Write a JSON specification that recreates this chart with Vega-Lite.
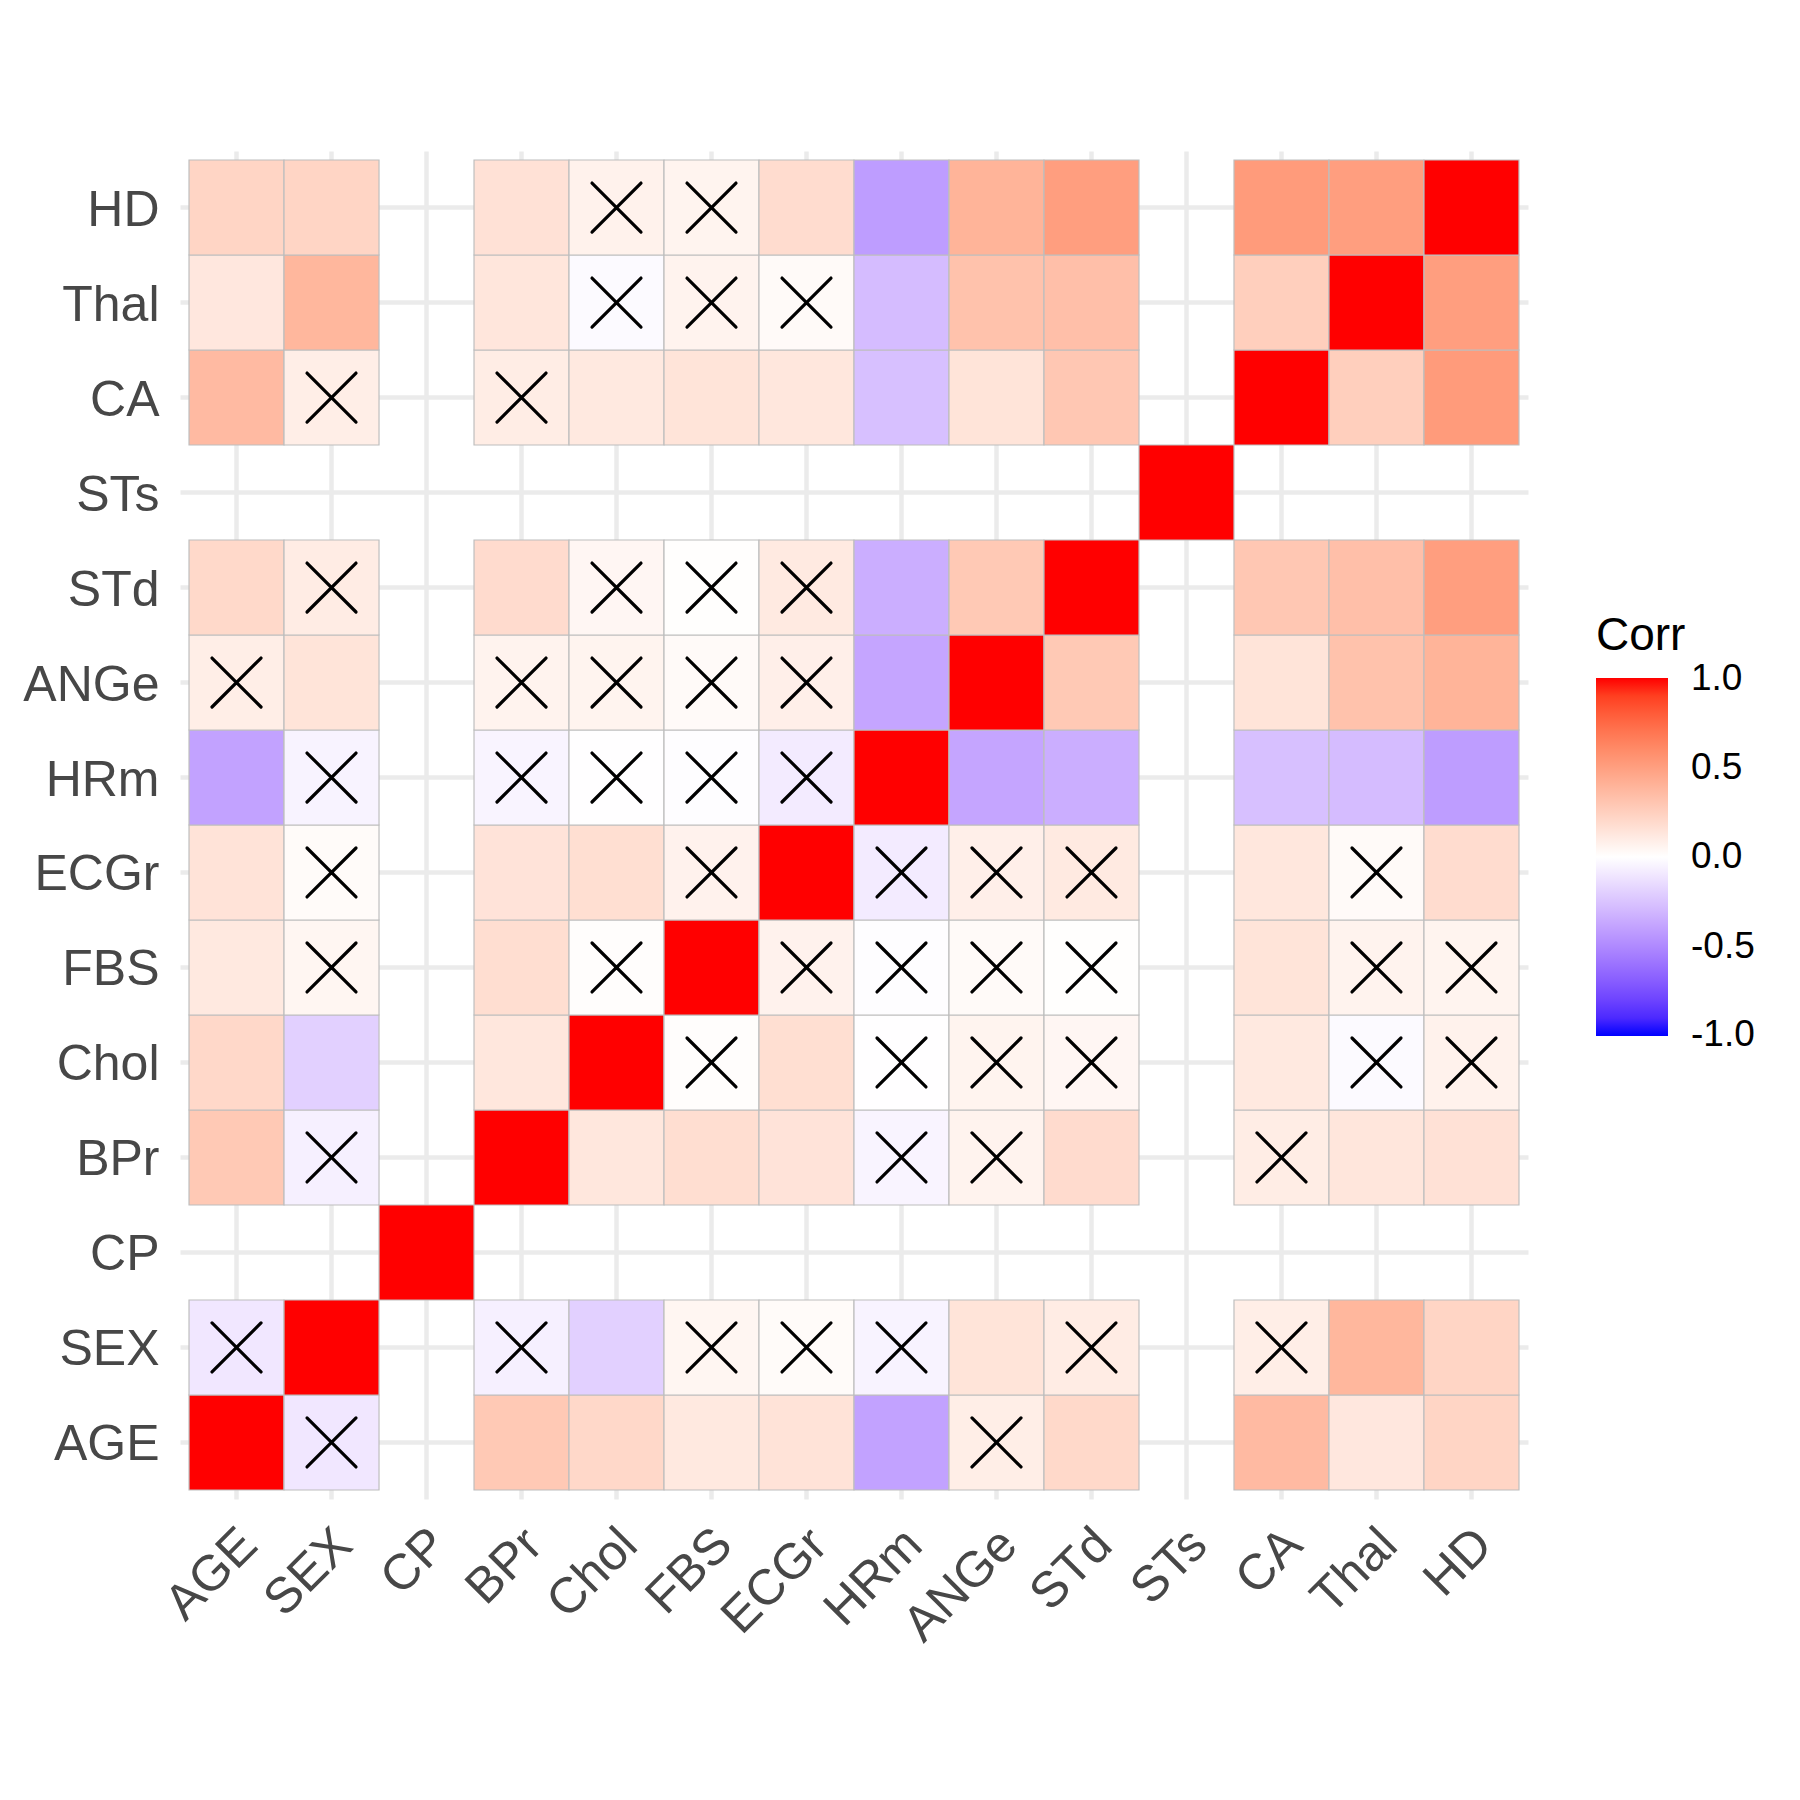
{
  "$schema": "https://vega.github.io/schema/vega-lite/v6.json",
  "width": 1348,
  "height": 1348,
  "autosize": "none",
  "padding": {"left": 180, "top": 151, "right": 272, "bottom": 301},
  "background": "white",
  "config": {"view": {"stroke": null}, "font": "Liberation Sans"},
  "data": {"values": [
    {"x":"AGE","y":"AGE","r":1,"ns":false},
    {"x":"AGE","y":"SEX","r":-0.098,"ns":true},
    {"x":"AGE","y":"BPr","r":0.285,"ns":false},
    {"x":"AGE","y":"Chol","r":0.209,"ns":false},
    {"x":"AGE","y":"FBS","r":0.119,"ns":false},
    {"x":"AGE","y":"ECGr","r":0.149,"ns":false},
    {"x":"AGE","y":"HRm","r":-0.394,"ns":false},
    {"x":"AGE","y":"ANGe","r":0.092,"ns":true},
    {"x":"AGE","y":"STd","r":0.204,"ns":false},
    {"x":"AGE","y":"CA","r":0.362,"ns":false},
    {"x":"AGE","y":"Thal","r":0.127,"ns":false},
    {"x":"AGE","y":"HD","r":0.223,"ns":false},
    {"x":"SEX","y":"AGE","r":-0.098,"ns":true},
    {"x":"SEX","y":"SEX","r":1,"ns":false},
    {"x":"SEX","y":"BPr","r":-0.064,"ns":true},
    {"x":"SEX","y":"Chol","r":-0.198,"ns":false},
    {"x":"SEX","y":"FBS","r":0.048,"ns":true},
    {"x":"SEX","y":"ECGr","r":0.022,"ns":true},
    {"x":"SEX","y":"HRm","r":-0.049,"ns":true},
    {"x":"SEX","y":"ANGe","r":0.146,"ns":false},
    {"x":"SEX","y":"STd","r":0.102,"ns":true},
    {"x":"SEX","y":"CA","r":0.093,"ns":true},
    {"x":"SEX","y":"Thal","r":0.381,"ns":false},
    {"x":"SEX","y":"HD","r":0.224,"ns":false},
    {"x":"CP","y":"CP","r":1,"ns":false},
    {"x":"BPr","y":"AGE","r":0.285,"ns":false},
    {"x":"BPr","y":"SEX","r":-0.064,"ns":true},
    {"x":"BPr","y":"BPr","r":1,"ns":false},
    {"x":"BPr","y":"Chol","r":0.13,"ns":false},
    {"x":"BPr","y":"FBS","r":0.175,"ns":false},
    {"x":"BPr","y":"ECGr","r":0.147,"ns":false},
    {"x":"BPr","y":"HRm","r":-0.045,"ns":true},
    {"x":"BPr","y":"ANGe","r":0.065,"ns":true},
    {"x":"BPr","y":"STd","r":0.189,"ns":false},
    {"x":"BPr","y":"CA","r":0.098,"ns":true},
    {"x":"BPr","y":"Thal","r":0.134,"ns":false},
    {"x":"BPr","y":"HD","r":0.158,"ns":false},
    {"x":"Chol","y":"AGE","r":0.209,"ns":false},
    {"x":"Chol","y":"SEX","r":-0.198,"ns":false},
    {"x":"Chol","y":"BPr","r":0.13,"ns":false},
    {"x":"Chol","y":"Chol","r":1,"ns":false},
    {"x":"Chol","y":"FBS","r":0.01,"ns":true},
    {"x":"Chol","y":"ECGr","r":0.171,"ns":false},
    {"x":"Chol","y":"HRm","r":-0.003,"ns":true},
    {"x":"Chol","y":"ANGe","r":0.061,"ns":true},
    {"x":"Chol","y":"STd","r":0.047,"ns":true},
    {"x":"Chol","y":"CA","r":0.119,"ns":false},
    {"x":"Chol","y":"Thal","r":-0.02,"ns":true},
    {"x":"Chol","y":"HD","r":0.071,"ns":true},
    {"x":"FBS","y":"AGE","r":0.119,"ns":false},
    {"x":"FBS","y":"SEX","r":0.048,"ns":true},
    {"x":"FBS","y":"BPr","r":0.175,"ns":false},
    {"x":"FBS","y":"Chol","r":0.01,"ns":true},
    {"x":"FBS","y":"FBS","r":1,"ns":false},
    {"x":"FBS","y":"ECGr","r":0.07,"ns":true},
    {"x":"FBS","y":"HRm","r":-0.008,"ns":true},
    {"x":"FBS","y":"ANGe","r":0.026,"ns":true},
    {"x":"FBS","y":"STd","r":0.006,"ns":true},
    {"x":"FBS","y":"CA","r":0.145,"ns":false},
    {"x":"FBS","y":"Thal","r":0.064,"ns":true},
    {"x":"FBS","y":"HD","r":0.059,"ns":true},
    {"x":"ECGr","y":"AGE","r":0.149,"ns":false},
    {"x":"ECGr","y":"SEX","r":0.022,"ns":true},
    {"x":"ECGr","y":"BPr","r":0.147,"ns":false},
    {"x":"ECGr","y":"Chol","r":0.171,"ns":false},
    {"x":"ECGr","y":"FBS","r":0.07,"ns":true},
    {"x":"ECGr","y":"ECGr","r":1,"ns":false},
    {"x":"ECGr","y":"HRm","r":-0.083,"ns":true},
    {"x":"ECGr","y":"ANGe","r":0.085,"ns":true},
    {"x":"ECGr","y":"STd","r":0.114,"ns":true},
    {"x":"ECGr","y":"CA","r":0.128,"ns":false},
    {"x":"ECGr","y":"Thal","r":0.025,"ns":true},
    {"x":"ECGr","y":"HD","r":0.184,"ns":false},
    {"x":"HRm","y":"AGE","r":-0.394,"ns":false},
    {"x":"HRm","y":"SEX","r":-0.049,"ns":true},
    {"x":"HRm","y":"BPr","r":-0.045,"ns":true},
    {"x":"HRm","y":"Chol","r":-0.003,"ns":true},
    {"x":"HRm","y":"FBS","r":-0.008,"ns":true},
    {"x":"HRm","y":"ECGr","r":-0.083,"ns":true},
    {"x":"HRm","y":"HRm","r":1,"ns":false},
    {"x":"HRm","y":"ANGe","r":-0.378,"ns":false},
    {"x":"HRm","y":"STd","r":-0.343,"ns":false},
    {"x":"HRm","y":"CA","r":-0.265,"ns":false},
    {"x":"HRm","y":"Thal","r":-0.279,"ns":false},
    {"x":"HRm","y":"HD","r":-0.415,"ns":false},
    {"x":"ANGe","y":"AGE","r":0.092,"ns":true},
    {"x":"ANGe","y":"SEX","r":0.146,"ns":false},
    {"x":"ANGe","y":"BPr","r":0.065,"ns":true},
    {"x":"ANGe","y":"Chol","r":0.061,"ns":true},
    {"x":"ANGe","y":"FBS","r":0.026,"ns":true},
    {"x":"ANGe","y":"ECGr","r":0.085,"ns":true},
    {"x":"ANGe","y":"HRm","r":-0.378,"ns":false},
    {"x":"ANGe","y":"ANGe","r":1,"ns":false},
    {"x":"ANGe","y":"STd","r":0.288,"ns":false},
    {"x":"ANGe","y":"CA","r":0.146,"ns":false},
    {"x":"ANGe","y":"Thal","r":0.322,"ns":false},
    {"x":"ANGe","y":"HD","r":0.397,"ns":false},
    {"x":"STd","y":"AGE","r":0.204,"ns":false},
    {"x":"STd","y":"SEX","r":0.102,"ns":true},
    {"x":"STd","y":"BPr","r":0.189,"ns":false},
    {"x":"STd","y":"Chol","r":0.047,"ns":true},
    {"x":"STd","y":"FBS","r":0.006,"ns":true},
    {"x":"STd","y":"ECGr","r":0.114,"ns":true},
    {"x":"STd","y":"HRm","r":-0.343,"ns":false},
    {"x":"STd","y":"ANGe","r":0.288,"ns":false},
    {"x":"STd","y":"STd","r":1,"ns":false},
    {"x":"STd","y":"CA","r":0.296,"ns":false},
    {"x":"STd","y":"Thal","r":0.336,"ns":false},
    {"x":"STd","y":"HD","r":0.504,"ns":false},
    {"x":"STs","y":"STs","r":1,"ns":false},
    {"x":"CA","y":"AGE","r":0.362,"ns":false},
    {"x":"CA","y":"SEX","r":0.093,"ns":true},
    {"x":"CA","y":"BPr","r":0.098,"ns":true},
    {"x":"CA","y":"Chol","r":0.119,"ns":false},
    {"x":"CA","y":"FBS","r":0.145,"ns":false},
    {"x":"CA","y":"ECGr","r":0.128,"ns":false},
    {"x":"CA","y":"HRm","r":-0.265,"ns":false},
    {"x":"CA","y":"ANGe","r":0.146,"ns":false},
    {"x":"CA","y":"STd","r":0.296,"ns":false},
    {"x":"CA","y":"CA","r":1,"ns":false},
    {"x":"CA","y":"Thal","r":0.255,"ns":false},
    {"x":"CA","y":"HD","r":0.521,"ns":false},
    {"x":"Thal","y":"AGE","r":0.127,"ns":false},
    {"x":"Thal","y":"SEX","r":0.381,"ns":false},
    {"x":"Thal","y":"BPr","r":0.134,"ns":false},
    {"x":"Thal","y":"Chol","r":-0.02,"ns":true},
    {"x":"Thal","y":"FBS","r":0.064,"ns":true},
    {"x":"Thal","y":"ECGr","r":0.025,"ns":true},
    {"x":"Thal","y":"HRm","r":-0.279,"ns":false},
    {"x":"Thal","y":"ANGe","r":0.322,"ns":false},
    {"x":"Thal","y":"STd","r":0.336,"ns":false},
    {"x":"Thal","y":"CA","r":0.255,"ns":false},
    {"x":"Thal","y":"Thal","r":1,"ns":false},
    {"x":"Thal","y":"HD","r":0.507,"ns":false},
    {"x":"HD","y":"AGE","r":0.223,"ns":false},
    {"x":"HD","y":"SEX","r":0.224,"ns":false},
    {"x":"HD","y":"BPr","r":0.158,"ns":false},
    {"x":"HD","y":"Chol","r":0.071,"ns":true},
    {"x":"HD","y":"FBS","r":0.059,"ns":true},
    {"x":"HD","y":"ECGr","r":0.184,"ns":false},
    {"x":"HD","y":"HRm","r":-0.415,"ns":false},
    {"x":"HD","y":"ANGe","r":0.397,"ns":false},
    {"x":"HD","y":"STd","r":0.504,"ns":false},
    {"x":"HD","y":"CA","r":0.521,"ns":false},
    {"x":"HD","y":"Thal","r":0.507,"ns":false},
    {"x":"HD","y":"HD","r":1,"ns":false}
  ]},
  "encoding": {
    "x": {
      "field": "x", "type": "nominal",
      "scale": {"domain": ["AGE","SEX","CP","BPr","Chol","FBS","ECGr","HRm","ANGe","STd","STs","CA","Thal","HD"], "paddingInner": 0, "paddingOuter": 0.095},
      "axis": {"title": null, "orient": "bottom", "labelAngle": -45, "labelAlign": "right", "labelBaseline": "top",
        "labelFontSize": 50, "labelColor": "#474747", "labelPadding": 20, "labelOffset": -5,
        "ticks": false, "tickSize": 0, "domain": false, "grid": true, "gridColor": "#EBEBEB", "gridWidth": 4.5,
        "bandPosition": 0.5, "labelOverlap": false, "zindex": 0}
    },
    "y": {
      "field": "y", "type": "nominal",
      "scale": {"domain": ["HD","Thal","CA","STs","STd","ANGe","HRm","ECGr","FBS","Chol","BPr","CP","SEX","AGE"], "paddingInner": 0, "paddingOuter": 0.095},
      "axis": {"title": null, "labelFontSize": 50, "labelColor": "#474747", "labelPadding": 21, "labelOffset": 3,
        "ticks": false, "tickSize": 0, "domain": false, "grid": true, "gridColor": "#EBEBEB", "gridWidth": 4.5,
        "bandPosition": 0.5, "labelOverlap": false, "zindex": 0}
    }
  },
  "layer": [
    {
      "mark": {"type": "rect", "stroke": "#BEBEBE", "strokeWidth": 1.2, "opacity": 1, "fillOpacity": 1},
      "encoding": {
        "color": {
          "field": "r", "type": "quantitative",
          "scale": {"domain": [-1, 0, 1], "range": ["blue", "white", "red"], "interpolate": "lab"},
          "legend": {
            "type": "gradient", "title": "Corr", "orient": "none", "legendX": 1416, "legendY": 463,
            "direction": "vertical", "gradientLength": 358, "gradientThickness": 72, "gradientStrokeWidth": 0,
            "values": [-0.995, -0.5, 0, 0.5, 0.995], "format": ".1f",
            "labelExpr": "replace(datum.label, '\u2212', '-')",
            "labelFontSize": 37, "labelColor": "black", "labelOffset": 23, "labelBaseline": "middle",
            "titleFontSize": 46, "titleColor": "black", "titleFontWeight": "normal", "titlePadding": 18,
            "labelOverlap": false,
            "encode": {"labels": {"baseline": {"value": "middle"}}}
          }
        }
      }
    },
    {
      "transform": [{"filter": "datum.ns"}],
      "mark": {"type": "point", "shape": "M-1,-1L1,1M-1,1L1,-1", "size": 2400, "filled": false,
        "stroke": "black", "strokeWidth": 3.2, "strokeCap": "round", "opacity": 1}
    }
  ]
}
